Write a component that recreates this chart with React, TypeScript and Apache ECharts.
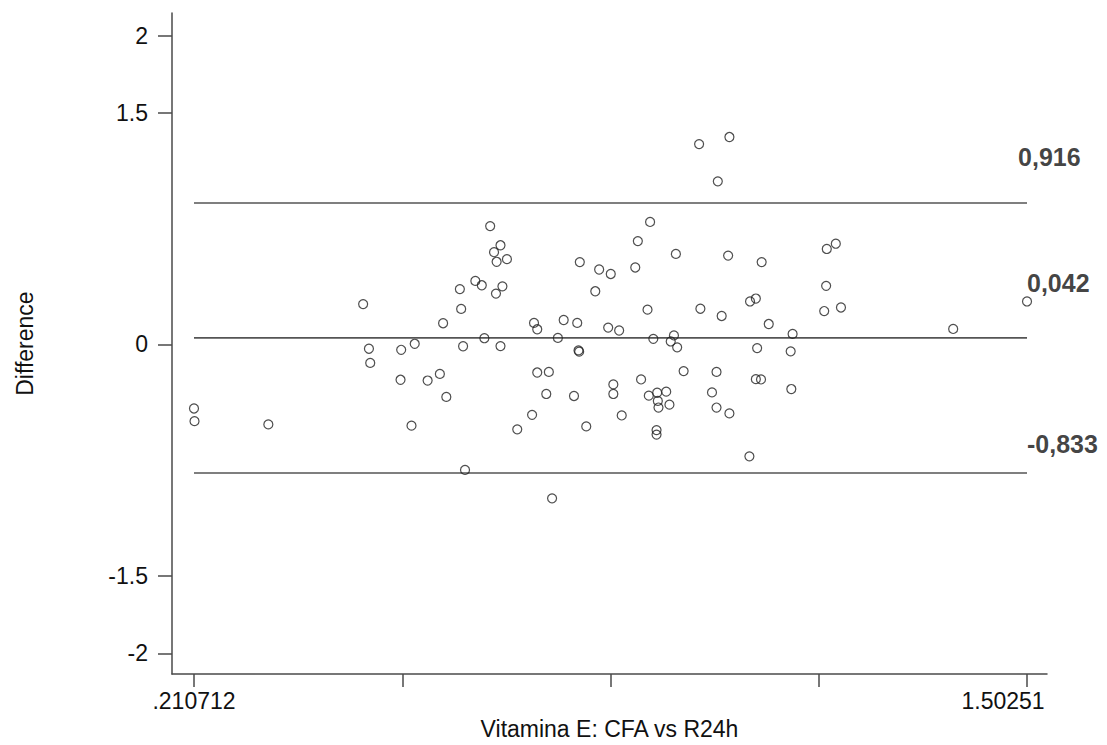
import React, { useEffect, useRef } from 'react';
import * as echarts from 'echarts';

// Mean of the two methods (x) and their difference (y), one entry per subject
const meanValues = [
  0.210712, 0.2115, 0.326, 0.473, 0.482, 0.484, 0.531, 0.532, 0.548, 0.553,
  0.573, 0.592, 0.597, 0.602, 0.623, 0.625, 0.628, 0.631, 0.647, 0.657,
  0.661, 0.670, 0.676, 0.679, 0.680, 0.686, 0.686, 0.689, 0.696, 0.712,
  0.735, 0.738, 0.743, 0.743, 0.757, 0.761, 0.766, 0.775, 0.784, 0.800,
  0.805, 0.807, 0.808, 0.809, 0.819, 0.833, 0.839, 0.853, 0.857, 0.861,
  0.861, 0.870, 0.874, 0.895, 0.899, 0.904, 0.914, 0.916, 0.918, 0.923,
  0.928, 0.928, 0.929, 0.930, 0.931, 0.943, 0.948, 0.950, 0.955, 0.958,
  0.960, 0.970, 0.994, 0.996, 1.014, 1.021, 1.021, 1.023, 1.029, 1.039,
  1.041, 1.041, 1.072, 1.073, 1.082, 1.082, 1.084, 1.090, 1.091, 1.102,
  1.136, 1.137, 1.139, 1.188, 1.191, 1.192, 1.206, 1.214, 1.388, 1.50251,
];
const differences = [
  -0.415, -0.497, -0.518, 0.261, -0.028, -0.120, -0.229, -0.035, -0.526, 0.004,
  -0.234, -0.191, 0.137, -0.340, 0.358, 0.230, -0.012, -0.813, 0.411, 0.383,
  0.040, 0.766, 0.597, 0.329, 0.535, 0.642, -0.011, 0.376, 0.552, -0.550,
  -0.456, 0.139, 0.098, -0.182, -0.321, -0.178, -0.997, 0.042, 0.158, -0.334,
  0.139, -0.039, -0.047, 0.533, -0.531, 0.344, 0.485, 0.109, 0.456, -0.259,
  -0.321, 0.090, -0.460, 0.498, 0.669, -0.227, 0.225, -0.332, 0.793, 0.036,
  -0.555, -0.584, -0.313, -0.366, -0.409, -0.306, -0.390, 0.019, 0.058, 0.586,
  -0.019, -0.173, 1.297, 0.231, -0.311, -0.178, -0.409, 1.056, 0.184, 0.575,
  1.343, -0.447, -0.725, 0.278, 0.297, -0.225, -0.024, -0.227, 0.533, 0.132,
  -0.045, -0.289, 0.068, 0.216, 0.379, 0.618, 0.652, 0.239, 0.100, 0.278,
];

// Upper limit of agreement, mean difference, lower limit of agreement
const limitValues = [0.916, 0.042, -0.833];
const limitLabelX = [1.4886, 1.50251, 1.50251];
const limitLabelY = [1.213, 0.395, -0.648];

const yTickValues = [-2, -1.5, 0, 1.5, 2];
const xTickValues = [0.210712, 0.533662, 0.856611, 1.179561, 1.50251];
const xTickLabels = ['.210712', '', '', '', '1.50251'];

const FONT = '"Liberation Sans", Arial, sans-serif';
const INK = '#111';
const AXIS = '#4a4a4a';

export default function App() {
  const ref = useRef<HTMLDivElement>(null);

  useEffect(() => {
    document.body.style.margin = '0';
    if (!ref.current) return;
    const chart = echarts.init(ref.current, undefined, { renderer: 'svg' });

    const xMin = Math.min(...meanValues);
    const xMax = Math.max(...meanValues);
    const labelled = xTickValues.filter((_, i) => xTickLabels[i] !== '');

    const limitSeries = limitValues.map((v) => ({
      type: 'line',
      data: [
        [xMin, v],
        [xMax, v],
      ],
      symbol: 'none',
      silent: true,
      lineStyle: { color: '#555', width: 1.6 },
      z: 1,
    }));

    chart.setOption({
      animation: false,
      backgroundColor: '#fff',
      grid: { left: 172, top: 13, right: 60, bottom: 65, containLabel: false },
      xAxis: {
        type: 'value',
        min: 0.1766,
        max: 1.5335,
        name: 'Vitamina E: CFA vs R24h',
        nameLocation: 'middle',
        nameGap: 39,
        nameTextStyle: { fontFamily: FONT, fontSize: 23, color: INK },
        axisLine: { show: true, onZero: false, lineStyle: { color: AXIS, width: 1.5 } },
        axisTick: {
          show: true,
          length: 13,
          customValues: xTickValues,
          lineStyle: { color: AXIS, width: 1.5 },
        },
        axisLabel: {
          show: true,
          customValues: labelled,
          margin: 15,
          formatter: (val: number) => {
            const i = xTickValues.findIndex((t) => Math.abs(t - val) < 1e-6);
            const txt = i >= 0 ? xTickLabels[i] : '';
            return i === xTickValues.length - 1 ? `{r|${txt}}` : `{l|${txt}}`;
          },
          rich: {
            l: { fontFamily: FONT, fontSize: 23, color: INK },
            r: { fontFamily: FONT, fontSize: 23, color: INK, padding: [0, 48, 0, 0] },
          },
        },
        splitLine: { show: false },
      },
      yAxis: {
        type: 'value',
        min: -2.135,
        max: 2.146,
        name: 'Difference',
        nameLocation: 'middle',
        nameGap: 136,
        nameRotate: 90,
        nameTextStyle: { fontFamily: FONT, fontSize: 23, color: INK },
        axisLine: { show: true, onZero: false, lineStyle: { color: AXIS, width: 1.5 } },
        axisTick: {
          show: true,
          length: 14,
          customValues: yTickValues,
          lineStyle: { color: AXIS, width: 1.5 },
        },
        axisLabel: {
          show: true,
          customValues: yTickValues,
          margin: 24,
          fontFamily: FONT,
          fontSize: 23,
          color: INK,
          formatter: (val: number) => String(val),
        },
        splitLine: { show: false },
      },
      series: [
        ...limitSeries,
        {
          type: 'scatter',
          data: meanValues.map((x, i) => [x, differences[i]]),
          symbol: 'circle',
          symbolSize: 9,
          itemStyle: { color: 'rgba(0,0,0,0)', borderColor: '#222', borderWidth: 1.2 },
          z: 3,
        },
        {
          type: 'scatter',
          data: limitValues.map((v, i) => ({
            value: [limitLabelX[i], limitLabelY[i]],
            label: { formatter: v.toFixed(3).replace('.', ',') },
          })),
          symbolSize: 0,
          silent: true,
          label: {
            show: true,
            position: [0, 0],
            align: 'left',
            verticalAlign: 'middle',
            fontFamily: FONT,
            fontSize: 25,
            fontWeight: 'bold',
            color: INK,
          },
          z: 4,
        },
      ],
    });

    return () => chart.dispose();
  }, []);

  return <div ref={ref} style={{ width: 1107, height: 745 }} />;
}
